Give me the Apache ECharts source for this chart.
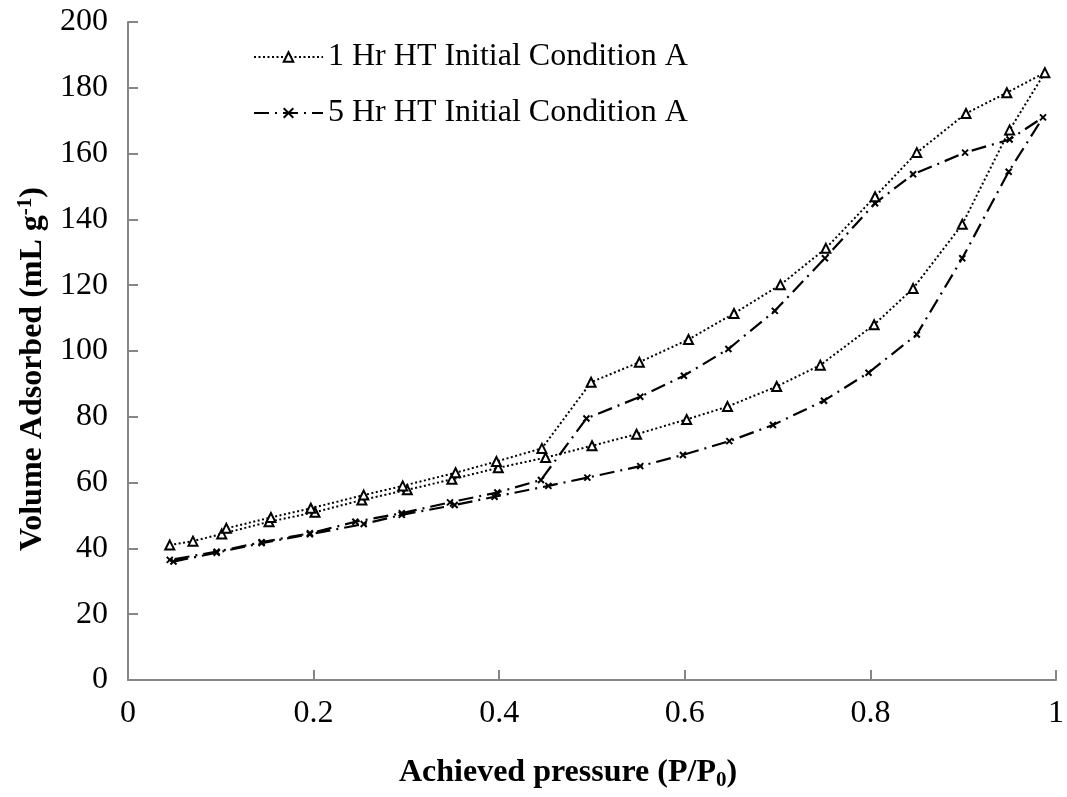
<!DOCTYPE html>
<html>
<head>
<meta charset="utf-8">
<script src="https://cdn.jsdelivr.net/npm/echarts@6/dist/echarts.min.js"></script>
<style>
html,body{margin:0;padding:0;background:#fff;}
#chart{width:1067px;height:797px;}
</style>
</head>
<body>
<div id="chart"></div>
<script>
// ---- data ----
const seriesNames = ['1 Hr HT Initial Condition A', '5 Hr HT Initial Condition A'];
const xTickValues = [0, 0.2, 0.4, 0.6, 0.8, 1];
const yTickValues = [0, 20, 40, 60, 80, 100, 120, 140, 160, 180, 200];

// 1 Hr: adsorption branch then desorption branch
const oneHrAdsX = [0.045, 0.07, 0.101, 0.152, 0.2015, 0.252, 0.301, 0.349, 0.399, 0.450, 0.500, 0.548, 0.602, 0.646, 0.699, 0.746, 0.804, 0.846, 0.899, 0.950, 0.988];
const oneHrAdsY = [41.0, 42.2, 44.4, 48.1, 51.0, 54.7, 57.8, 61.0, 64.5, 67.6, 71.2, 74.7, 79.2, 83.1, 89.2, 95.7, 108.0, 119.0, 138.5, 167.2, 184.6];
const oneHrDesX = [0.947, 0.903, 0.850, 0.805, 0.752, 0.703, 0.653, 0.604, 0.551, 0.499, 0.446, 0.397, 0.353, 0.296, 0.254, 0.197, 0.154, 0.106];
const oneHrDesY = [178.5, 172.2, 160.3, 146.9, 131.2, 120.1, 111.4, 103.5, 96.6, 90.5, 70.4, 66.4, 63.0, 59.0, 56.2, 52.2, 49.4, 46.1];

// 5 Hr: adsorption branch then desorption branch
const fiveHrAdsX = [0.049, 0.0955, 0.144, 0.196, 0.254, 0.295, 0.352, 0.395, 0.453, 0.495, 0.552, 0.598, 0.648, 0.695, 0.750, 0.798, 0.850, 0.899, 0.949, 0.986];
const fiveHrAdsY = [36.0, 38.7, 41.6, 44.3, 47.4, 50.2, 53.2, 55.7, 59.0, 61.5, 65.0, 68.4, 72.6, 77.5, 84.9, 93.4, 105.0, 128.2, 154.5, 171.0];
const fiveHrDesX = [0.950, 0.902, 0.846, 0.805, 0.751, 0.697, 0.647, 0.599, 0.552, 0.494, 0.445, 0.398, 0.347, 0.295, 0.245, 0.196, 0.144, 0.0955, 0.045];
const fiveHrDesY = [164.3, 160.3, 153.7, 144.9, 128.2, 112.2, 100.6, 92.5, 86.1, 79.5, 60.8, 57.0, 54.0, 50.7, 48.1, 44.6, 41.9, 39.0, 36.5];

function pairs(xs, ys) { return xs.map((x, i) => [x, ys[i]]); }
const oneHrData = pairs(oneHrAdsX, oneHrAdsY).concat(pairs(oneHrDesX, oneHrDesY));
const fiveHrData = pairs(fiveHrAdsX, fiveHrAdsY).concat(pairs(fiveHrDesX, fiveHrDesY));

const FONT = '"Liberation Serif", "Times New Roman", serif';
const FS = 32;
const AXIS_GREY = '#868686';

const chart = echarts.init(document.getElementById('chart'), null, {renderer: 'canvas'});
chart.setOption({
  animation: false,
  backgroundColor: '#ffffff',
  textStyle: {fontFamily: FONT, color: '#000'},
  grid: {left: 128, right: 11, top: 22, bottom: 117, containLabel: false},
  legend: {
    orient: 'vertical',
    left: 248,
    top: 36,
    itemWidth: 69,
    itemHeight: 12,
    itemGap: 24,
    data: seriesNames,
    textStyle: {fontFamily: FONT, fontSize: FS, color: '#000'}
  },
  xAxis: {
    type: 'value',
    min: xTickValues[0],
    max: xTickValues[xTickValues.length - 1],
    interval: 0.2,
    splitLine: {show: false},
    axisLine: {show: true, onZero: false, lineStyle: {color: AXIS_GREY, width: 2}},
    axisTick: {show: true, inside: true, length: 10, lineStyle: {color: AXIS_GREY, width: 2}},
    axisLabel: {fontFamily: FONT, fontSize: FS, color: '#000', margin: 18},
    name: '{b|Achieved pressure (P/P}{sub|0}{b|)}',
    nameLocation: 'middle',
    nameGap: 74,
    nameTextStyle: {
      padding: [0, 48, 0, 0],
      rich: {
        b: {fontFamily: FONT, fontSize: FS, fontWeight: 'bold', color: '#000'},
        sub: {fontFamily: FONT, fontSize: 21, fontWeight: 'bold', color: '#000', verticalAlign: 'bottom', padding: [16, 0, 0, 0]}
      }
    }
  },
  yAxis: {
    type: 'value',
    min: yTickValues[0],
    max: yTickValues[yTickValues.length - 1],
    interval: 20,
    splitLine: {show: false},
    axisLine: {show: true, lineStyle: {color: AXIS_GREY, width: 2}},
    axisTick: {show: true, inside: true, length: 10, lineStyle: {color: AXIS_GREY, width: 2}},
    axisLabel: {fontFamily: FONT, fontSize: FS, color: '#000', margin: 20},
    name: '{b|Volume Adsorbed (mL g}{sup|-1}{b|)}',
    nameLocation: 'middle',
    nameGap: 78,
    nameRotate: 90,
    nameTextStyle: {
      padding: [0, 36, 0, 0],
      rich: {
        b: {fontFamily: FONT, fontSize: FS, fontWeight: 'bold', color: '#000'},
        sup: {fontFamily: FONT, fontSize: 21, fontWeight: 'bold', color: '#000', verticalAlign: 'top', padding: [0, 0, 14, 0]}
      }
    }
  },
  series: [
    {
      name: seriesNames[0],
      type: 'line',
      data: oneHrData,
      symbol: 'triangle',
      symbolSize: 9,
      showAllSymbol: true,
      itemStyle: {color: '#ffffff', borderColor: '#000', borderWidth: 2},
      lineStyle: {color: '#000', width: 2, type: [2, 2.5]},
      z: 3
    },
    {
      name: seriesNames[1],
      type: 'line',
      data: fiveHrData,
      symbol: 'path://M0,0L10,10M10,0L0,10',
      symbolSize: 6,
      showAllSymbol: true,
      itemStyle: {color: 'rgba(0,0,0,0)', borderColor: '#000', borderWidth: 2},
      lineStyle: {color: '#000', width: 2.2, type: [15, 6, 2, 6]},
      z: 2
    }
  ]
});
</script>
</body>
</html>
